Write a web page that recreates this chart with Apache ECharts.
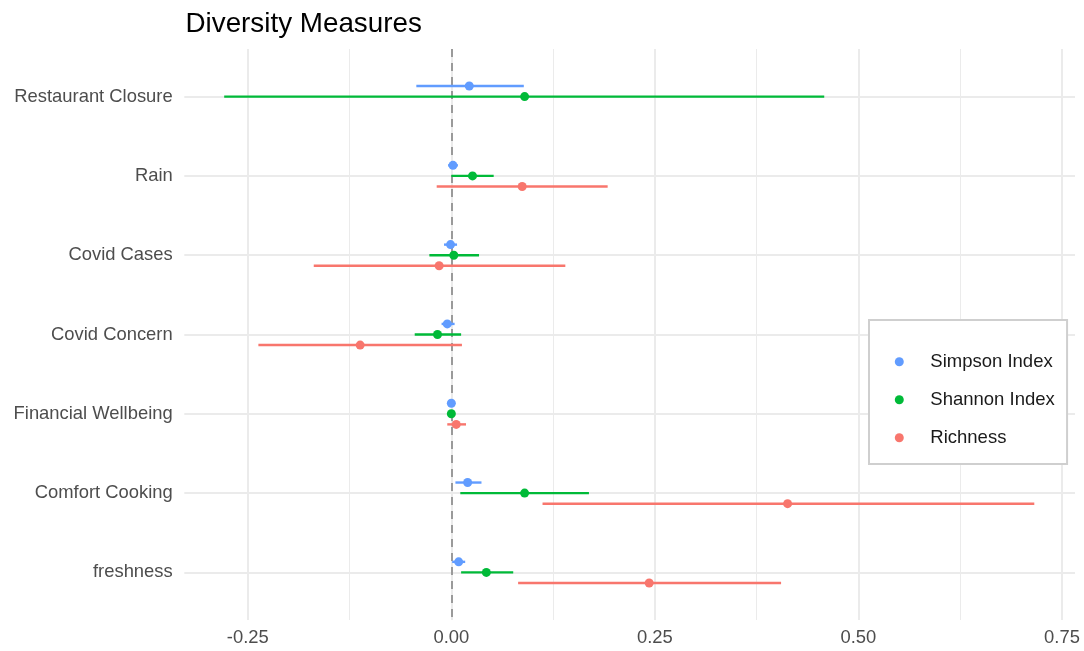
<!DOCTYPE html>
<html>
<head>
<meta charset="utf-8">
<script src="https://cdn.jsdelivr.net/npm/echarts@6/dist/echarts.min.js"></script>
<style>
html,body{margin:0;padding:0;background:#fff;}
#chart{width:1084px;height:651px;}
</style>
</head>
<body>
<div id="chart"></div>
<script>
// ---- data ----
const categories = ["Restaurant Closure","Rain","Covid Cases","Covid Concern","Financial Wellbeing","Comfort Cooking","freshness"];
const seriesNames = ["Simpson Index","Shannon Index","Richness"];

const simpsonEst = [0.022, 0.002, -0.001, -0.005, 0.000, 0.020, 0.009];
const simpsonLo  = [-0.043, -0.004, -0.009, -0.012, -0.001, 0.005, 0.001];
const simpsonHi  = [0.089, 0.008, 0.007, 0.004, 0.001, 0.037, 0.017];

const shannonEst = [0.090, 0.026, 0.003, -0.017, 0.000, 0.090, 0.043];
const shannonLo  = [-0.279, 0.000, -0.027, -0.045, -0.001, 0.011, 0.012];
const shannonHi  = [0.458, 0.052, 0.034, 0.012, 0.001, 0.169, 0.076];

const richnessEst = [null, 0.087, -0.015, -0.112, 0.006, 0.413, 0.243];
const richnessLo  = [null, -0.018, -0.169, -0.237, -0.005, 0.112, 0.082];
const richnessHi  = [null, 0.192, 0.140, 0.013, 0.018, 0.716, 0.405];

const majorTicks = [-0.25, 0, 0.25, 0.5, 0.75];
const minorTicks = [-0.125, 0.125, 0.375, 0.625];

// ---- styling ----
const colors = ["#619CFF", "#00BA38", "#F8766D"];
const dodge = [-0.1333, 0, 0.1333];
const FONT = "Liberation Sans, Arial, Helvetica, sans-serif";

function buildData(est, lo, hi) {
  return categories.map((c, i) => [i, est[i], lo[i], hi[i]]);
}
const allData = [
  buildData(simpsonEst, simpsonLo, simpsonHi),
  buildData(shannonEst, shannonLo, shannonHi),
  buildData(richnessEst, richnessLo, richnessHi)
];

function makeRender(k) {
  return function (params, api) {
    const idx = api.value(0);
    const est = api.value(1);
    const lo = api.value(2);
    const hi = api.value(3);
    if (est == null || isNaN(est)) return null;
    const yv = idx + dodge[k];
    const p = api.coord([est, yv]);
    const pl = api.coord([lo, yv]);
    const ph = api.coord([hi, yv]);
    return {
      type: 'group',
      children: [
        { type: 'line', shape: { x1: pl[0], y1: pl[1], x2: ph[0], y2: ph[1] },
          style: { stroke: colors[k], lineWidth: 2.4 } },
        { type: 'circle', shape: { cx: p[0], cy: p[1], r: 4.5 },
          style: { fill: colors[k] } }
      ]
    };
  };
}

const series = seriesNames.map((name, k) => ({
  name: name,
  type: 'custom',
  renderItem: makeRender(k),
  data: allData[k],
  encode: { x: [1, 2, 3], y: 0 },
  itemStyle: { color: colors[k] },
  z: 5,
  silent: true
}));

series.unshift({
  name: 'zero',
  type: 'line',
  data: [],
  z: 2,
  silent: true,
  markLine: {
    silent: true,
    symbol: ['none', 'none'],
    label: { show: false },
    lineStyle: { color: '#9A9A9A', width: 2, type: [8, 6] },
    data: [{ xAxis: 0 }]
  }
});

const chart = echarts.init(document.getElementById('chart'), null, { renderer: 'canvas' });
chart.setOption({
  backgroundColor: '#ffffff',
  animation: false,
  color: colors,
  textStyle: { fontFamily: FONT },
  title: {
    text: 'Diversity Measures',
    left: 180.5, top: 5,
    textStyle: { fontFamily: FONT, fontSize: 27.8, fontWeight: 'normal', color: '#000000' }
  },
  grid: { left: 184.3, right: 9, top: 49, bottom: 31, containLabel: false },
  xAxis: [
    {
      type: 'value', min: -0.328, max: 0.766,
      axisLine: { show: false },
      axisTick: { show: false, customValues: majorTicks },
      axisLabel: { customValues: majorTicks, formatter: v => v.toFixed(2),
        color: '#4D4D4D', fontSize: 18.4, fontFamily: FONT, margin: 8.5, lineHeight: 19 },
      splitLine: { show: true, lineStyle: { color: '#EBEBEB', width: 2 } }
    },
    {
      type: 'value', min: -0.328, max: 0.766, position: 'bottom',
      axisLine: { show: false },
      axisTick: { show: false, customValues: minorTicks },
      axisLabel: { show: false },
      splitLine: { show: true, lineStyle: { color: '#EBEBEB', width: 1 } }
    }
  ],
  yAxis: {
    type: 'value', min: -0.6, max: 6.6, inverse: true,
    axisLine: { show: false },
    axisTick: { show: false, customValues: [0,1,2,3,4,5,6] },
    axisLabel: { customValues: [0,1,2,3,4,5,6], formatter: v => categories[Math.round(v)] || '',
      color: '#4D4D4D', fontSize: 18.4, fontFamily: FONT, margin: 11.6 },
    splitLine: { show: true, lineStyle: { color: '#EBEBEB', width: 2 } }
  },
  legend: {
    data: seriesNames,
    orient: 'vertical',
    left: 869, top: 320,
    icon: 'circle',
    itemWidth: 9, itemHeight: 9,
    itemGap: 18,
    padding: [31.7, 12.3, 16.3, 25.8],
    backgroundColor: '#ffffff',
    borderColor: '#CFCFCF', borderWidth: 2,
    selectedMode: false,
    textStyle: { color: '#1A1A1A', fontSize: 18.5, fontFamily: FONT, lineHeight: 20, padding: [0, 0, 0, 21.5] }
  },
  series: series
});
</script>
</body>
</html>
